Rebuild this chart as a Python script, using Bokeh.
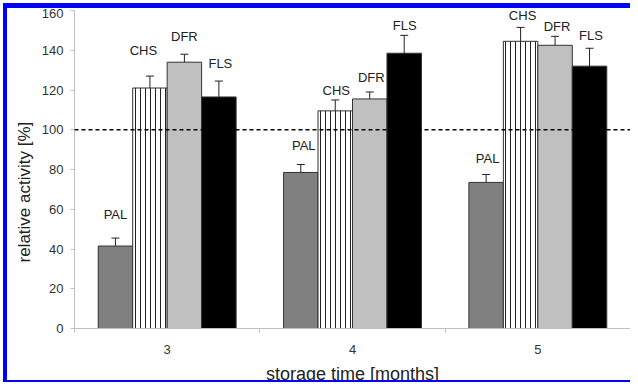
from bokeh.plotting import figure
from bokeh.models import (ColumnDataSource, Range1d, LinearAxis, FixedTicker, Whisker, TeeHead,
                          Span, LabelSet, Title)
from bokeh.transform import dodge
from bokeh.core.properties import value
from bokeh.embed import file_html
from bokeh.resources import INLINE

# ---------------- data ----------------
months = ["3", "4", "5"]
enzymes = ["PAL", "CHS", "DFR", "FLS"]
PAL = [41.5, 78.5, 73.5]
CHS = [121.0, 109.5, 144.5]
DFR = [134.0, 115.5, 142.5]
FLS = [116.5, 138.5, 132.0]
PAL_err = [4.0, 4.0, 4.0]
CHS_err = [6.0, 5.5, 7.0]
DFR_err = [4.0, 3.5, 4.5]
FLS_err = [8.0, 9.0, 9.0]
y_ticks = [0, 20, 40, 60, 80, 100, 120, 140, 160]
reference_level = 100
x_title = "storage time [months]"
y_title = "relative activity [%]"

# ---------------- styles ----------------
fills = {"PAL": "#808080", "CHS": "#ffffff", "DFR": "#c0c0c0", "FLS": "#000000"}
offsets = {"PAL": -0.279, "CHS": -0.093, "DFR": 0.093, "FLS": 0.279}
bar_w = 0.186
# label pixel offsets above error bar tops (dx, dy)
lab_dx = {"PAL": [0, 3, 1.5], "CHS": [-6.5, 1, 2], "DFR": [0, 1.5, 2], "FLS": [1.5, 0.5, 1.5]}
lab_dy = {"PAL": [24, 19, 16], "CHS": [25.6, 9.3, 12], "DFR": [18, 14.7, 10], "FLS": [17.7, 10, 13]}
FONT = "Liberation Sans"
TXT = "#222222"
AX = "#c0c0c0"

values = {"PAL": PAL, "CHS": CHS, "DFR": DFR, "FLS": FLS}
errors = {"PAL": PAL_err, "CHS": CHS_err, "DFR": DFR_err, "FLS": FLS_err}

# category slots: month i occupies [i, i+1]
centers = [i + 0.5 for i in range(len(months))]
bounds = list(range(len(months) + 1))

p = figure(width=627, height=379, x_range=Range1d(0, len(months)), y_range=Range1d(0, 160),
           x_axis_type=None, output_backend="svg", toolbar_location=None,
           min_border_left=62, min_border_right=4, min_border_top=2, min_border_bottom=59,
           outline_line_color=None, background_fill_color="white", border_fill_color="white")
p.styles = {"border-top": "5px solid #0000ff", "border-left": "4px solid #0000ff",
            "border-bottom": "2px solid #0000ff", "border-right": "none",
            "margin-top": "3px", "margin-left": "3px", "margin-bottom": "-8px"}
p.ygrid.visible = False

# y axis
ya = p.yaxis[0]
ya.ticker = FixedTicker(ticks=y_ticks)
ya.axis_line_color = AX
ya.major_tick_line_color = AX
ya.major_tick_out = 4
ya.major_tick_in = 0
ya.minor_tick_line_color = None
ya.major_label_standoff = 7
ya.major_label_text_font = FONT
ya.major_label_text_font_size = "13px"
ya.major_label_text_color = "#333333"

# y title (outside the axis, starting low as in the original)
p.add_layout(Title(text=y_title, align="left", offset=66, standoff=10,
                   text_font=FONT, text_font_size="17px", text_font_style="normal",
                   text_color=TXT), "left")

# x axis: boundary ticks + category labels
xt = LinearAxis(ticker=FixedTicker(ticks=bounds),
                major_label_overrides={b: "" for b in bounds},
                major_label_text_font_size="1px", major_label_standoff=0,
                axis_line_color=AX, major_tick_line_color=AX, major_tick_out=4, major_tick_in=0,
                minor_tick_line_color=None)
p.add_layout(xt, "below")
xc = LinearAxis(ticker=FixedTicker(ticks=centers),
                major_label_overrides={c: m for c, m in zip(centers, months)},
                axis_line_color=None, major_tick_line_color=None, minor_tick_line_color=None,
                major_label_standoff=6, major_label_text_font=FONT,
                major_label_text_font_size="13px", major_label_text_color="#333333",
                axis_label=x_title, axis_label_standoff=7, axis_label_text_font=FONT,
                axis_label_text_font_size="18px", axis_label_text_font_style="normal",
                axis_label_text_color=TXT)
p.add_layout(xc, "below")

for e in enzymes:
    v = values[e]
    er = errors[e]
    src = ColumnDataSource(dict(
        pos=centers, val=v,
        upper=[a + b for a, b in zip(v, er)],
        lower=[a - b for a, b in zip(v, er)],
        name=[e] * len(months),
        dx=lab_dx[e], dy=lab_dy[e],
    ))
    xs = dodge("pos", offsets[e])
    kw = dict(x=xs, top="val", bottom=0, width=bar_w, source=src,
              fill_color=fills[e], line_color="#333333", line_width=1)
    if e == "CHS":
        kw.update(hatch_pattern="vertical_line", hatch_scale=5, hatch_color="#222222", hatch_weight=1)
    p.vbar(**kw)
    wh = Whisker(source=src, base=xs, upper="upper", lower="lower", line_color="#222222",
                 line_width=1,
                 upper_head=TeeHead(size=8, line_color="#222222", line_width=1),
                 lower_head=TeeHead(size=8, line_color="#222222", line_width=1))
    p.add_layout(wh)
    ls = LabelSet(source=src, x=xs, y="upper", text="name", x_offset="dx", y_offset="dy",
                  text_align="center", text_baseline="middle", text_font=value(FONT),
                  text_font_size="13px", text_color=TXT)
    p.add_layout(ls)

p.add_layout(Span(location=reference_level, dimension="width", line_color="black",
                  line_dash="4 3", line_width=1.3))

open("out.html", "w").write(file_html(p, INLINE))
